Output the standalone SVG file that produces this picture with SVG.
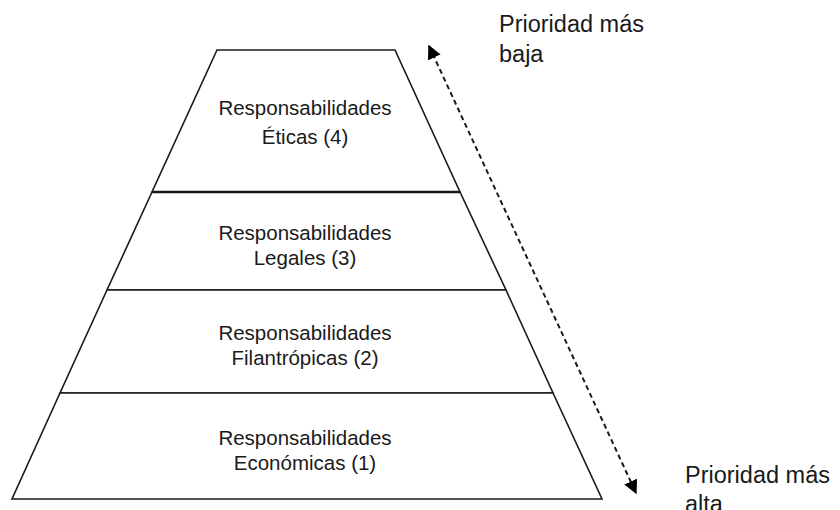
<svg xmlns="http://www.w3.org/2000/svg" width="840" height="510" viewBox="0 0 840 510">
<defs>
<style>
.shape{fill:#ffffff;stroke:#1a1a1a;stroke-width:1.6;stroke-linejoin:miter}
.lbl{font-family:"Liberation Sans",Arial,sans-serif;font-size:20.5px;fill:#1a1a1a;text-anchor:middle}
.side{font-family:"Liberation Sans",Arial,sans-serif;font-size:23.5px;fill:#1a1a1a}
.conn{fill:none;stroke:#1a1a1a;stroke-width:2;stroke-dasharray:5 3.5}
</style>
<marker id="ah" viewBox="0 0 10 10" refX="9" refY="5" markerWidth="7" markerHeight="7" orient="auto-start-reverse" markerUnits="strokeWidth">
<path d="M0,0 L10,5 L0,10 z" fill="#000"/>
</marker>
</defs>
<rect width="840" height="510" fill="#ffffff"/>
<g id="etica">
<polygon class="shape" points="217,50 395,50 460,192 152,192"/>
<text class="lbl" x="305" y="115">Responsabilidades</text>
<text class="lbl" x="305" y="144">Éticas (4)</text>
</g>
<g id="legal">
<polygon class="shape" points="152,192 460,192 506,290 107,290"/>
<text class="lbl" x="305" y="240">Responsabilidades</text>
<text class="lbl" x="305" y="265">Legales (3)</text>
</g>
<g id="filantropica">
<polygon class="shape" points="107,290 506,290 553,393 60,393"/>
<text class="lbl" x="305" y="340">Responsabilidades</text>
<text class="lbl" x="305" y="365">Filantrópicas (2)</text>
</g>
<g id="economica">
<polygon class="shape" points="60,393 553,393 602,499 12,499"/>
<text class="lbl" x="305" y="445">Responsabilidades</text>
<text class="lbl" x="305" y="470">Económicas (1)</text>
</g>
<line x1="152" y1="192" x2="460" y2="192" stroke="#1a1a1a" stroke-width="2.6"/>
<g id="connectors">
<line class="conn" x1="429" y1="46" x2="636" y2="493" marker-start="url(#ah)" marker-end="url(#ah)"/>
</g>
<g id="labels">
<text class="side" x="499" y="32">Prioridad más</text>
<text class="side" x="499" y="62">baja</text>
<text class="side" x="685" y="483">Prioridad más</text>
<text class="side" x="685" y="512">alta</text>
</g>
</svg>
